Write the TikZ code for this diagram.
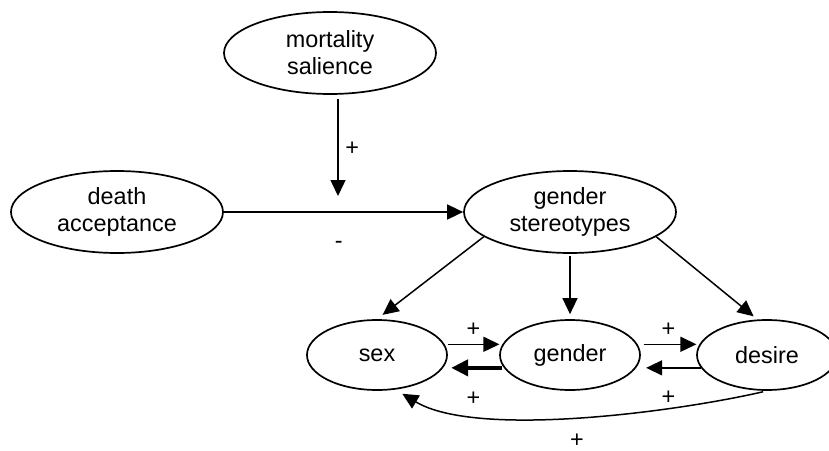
\documentclass[tikz,border=0pt]{standalone}
\usepackage{fontspec}
\setmainfont{Liberation Sans}
\usepackage{tikz}
\usetikzlibrary{positioning}
\usetikzlibrary{arrows.meta,shapes.geometric}
\tikzset{link/.style = {-{Triangle[length=8pt,width=7.5pt]}, line width=0.75pt}}
\tikzset{strong link/.style = {-{Triangle[length=8.5pt,width=8pt]}, line width=2.1pt}}

\begin{document}
\begin{tikzpicture}[on grid, every node/.style={font=\fontsize{11.7}{13.5}\selectfont},
    big node/.style={ellipse,draw,line width=0.85pt,inner sep=0pt,minimum width=106pt,minimum height=41pt,align=center},
    small node/.style={ellipse,draw,line width=0.85pt,inner sep=0pt,minimum width=70pt,minimum height=35pt}]
                    \useasboundingbox (-58.5pt,-119pt) rectangle (356pt,106pt);
                    \node[big node] (da) at (0,0) {death\\acceptance};
                    \node[big node] (ms) [above right=79.5pt and 106.5pt of da] {mortality\\salience};
                    \node[big node] (gs) [right=226.5pt of da] {gender\\stereotypes};
                    \node[small node] (sex) [below left=71.5pt and 96.5pt of gs] {sex};
                    \node[small node] (gen) [right=96.5pt of sex] {gender};
                    \node[small node] (des) [right=98.5pt of gen] {desire};

                    \path ([xshift=4pt]ms.south) coordinate (msfoot);
                    \coordinate (cross) at (msfoot |- da.east);
                    \draw[link, shorten <=2pt, shorten >=8pt] (msfoot) -- node[right, pos=0.46] (p1) {+} (cross);
                    \draw[link] (da) -- node[below=11pt, pos=0.48] (m1) {-} (gs);

                    \draw[link, shorten >=3.5pt] (gs.196) -- (sex.north);
                    \draw[link, shorten <=1pt, shorten >=2.5pt] (gs.south) -- (gen.north);
                    \draw[link, shorten >=2.5pt] (gs.344) -- (des.105);

                    \draw[link, shorten <=1.5pt, shorten >=1.5pt] (sex.9) -- node[above] (p2) {+} (gen.171);
                    \draw[link, shorten <=3pt, shorten >=1.5pt] (gen.9) -- node[above] (p3) {+} (des.171);
                    \draw[strong link, shorten <=1pt, shorten >=4pt] (gen.191) -- node[below=7.8pt] (p4) {+} (sex.349);
                    \draw[link, shorten >=5pt] (des.191) -- node[below=7.8pt] (p5) {+} (gen.349);
                    \draw[link, shorten <=2pt, shorten >=4pt] (des.south) to[out=193, in=-31, looseness=0.65] node[below=4.8pt] (p6) {+} (sex.-62);
                \end{tikzpicture}
\end{document}
